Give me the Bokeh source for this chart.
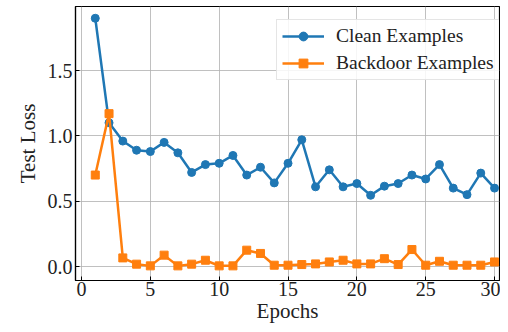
from bokeh.plotting import figure
from bokeh.models import Range1d, Legend, LegendItem, FixedTicker
from bokeh.embed import file_html
from bokeh.resources import INLINE

epochs = list(range(1, 31))
clean_loss = [1.90, 1.10, 0.96, 0.89, 0.88, 0.95, 0.87, 0.72, 0.78, 0.79,
              0.85, 0.70, 0.76, 0.64, 0.79, 0.97, 0.61, 0.74, 0.61, 0.635,
              0.545, 0.615, 0.635, 0.70, 0.67, 0.78, 0.60, 0.55, 0.715, 0.60]
backdoor_loss = [0.70, 1.17, 0.066, 0.018, 0.005, 0.087, 0.005, 0.018, 0.048, 0.005,
                 0.005, 0.125, 0.10, 0.01, 0.01, 0.015, 0.02, 0.035, 0.048, 0.02,
                 0.02, 0.06, 0.015, 0.13, 0.01, 0.04, 0.01, 0.01, 0.01, 0.035]
x_ticks = [0, 5, 10, 15, 20, 25, 30]
y_ticks = [0.0, 0.5, 1.0, 1.5]
series_names = ["Clean Examples", "Backdoor Examples"]

FONT = "Liberation Serif"
BLUE = "#1f77b4"
ORANGE = "#ff7f0e"

p = figure(frame_width=424, frame_height=274, output_backend="svg", toolbar_location=None,
           x_range=Range1d(-0.436, 30.36), y_range=Range1d(-0.107, 1.99),
           min_border_left=75, min_border_right=1, min_border_top=6, min_border_bottom=44)

p.outline_line_color = "black"
p.outline_line_width = 1.2
p.background_fill_color = "white"
p.border_fill_color = "white"

for ax in (p.xaxis[0], p.yaxis[0]):
    ax.axis_line_color = "black"
    ax.axis_line_width = 1.2
    ax.major_tick_in = 4
    ax.major_tick_out = 0
    ax.major_tick_line_color = "black"
    ax.minor_tick_line_color = None
    ax.major_label_text_font = FONT
    ax.major_label_text_font_size = "20px"
    ax.major_label_text_color = "#222222"
    ax.axis_label_text_font = FONT
    ax.axis_label_text_font_size = "21px"
    ax.axis_label_text_font_style = "normal"
    ax.axis_label_text_color = "#222222"

p.xaxis.ticker = FixedTicker(ticks=x_ticks)
p.yaxis.ticker = FixedTicker(ticks=y_ticks)
p.yaxis.major_label_overrides = {t: f"{t:.1f}" for t in y_ticks}
p.xaxis.axis_label = "Epochs"
p.yaxis.axis_label = "Test Loss"
p.xaxis.major_label_standoff = 1
p.yaxis.major_label_standoff = 3
p.xaxis.axis_label_standoff = 0
p.yaxis.axis_label_standoff = 5

p.grid.grid_line_color = "#b0b0b0"
p.grid.grid_line_width = 1
p.grid.grid_line_alpha = 0.8

l1 = p.line(epochs, clean_loss, line_color=BLUE, line_width=2.5)
m1 = p.scatter(epochs, clean_loss, marker="circle", size=8, fill_color=BLUE, line_color=BLUE)
l2 = p.line(epochs, backdoor_loss, line_color=ORANGE, line_width=2.5)
m2 = p.scatter(epochs, backdoor_loss, marker="square", size=8, fill_color=ORANGE, line_color=ORANGE)

legend = Legend(items=[LegendItem(label=series_names[0], renderers=[l1, m1]),
                       LegendItem(label=series_names[1], renderers=[l2, m2])],
                location=(201, 200))
legend.label_text_font = FONT
legend.label_text_font_size = "19.5px"
legend.label_text_color = "#222222"
legend.glyph_width = 42
legend.glyph_height = 22
legend.label_height = 22
legend.label_standoff = 12
legend.spacing = 5
legend.padding = 5
legend.margin = 0
legend.border_line_color = "#cccccc"
legend.border_line_width = 1
legend.background_fill_alpha = 0.85
p.add_layout(legend)

open("out.html", "w").write(file_html(p, INLINE))
